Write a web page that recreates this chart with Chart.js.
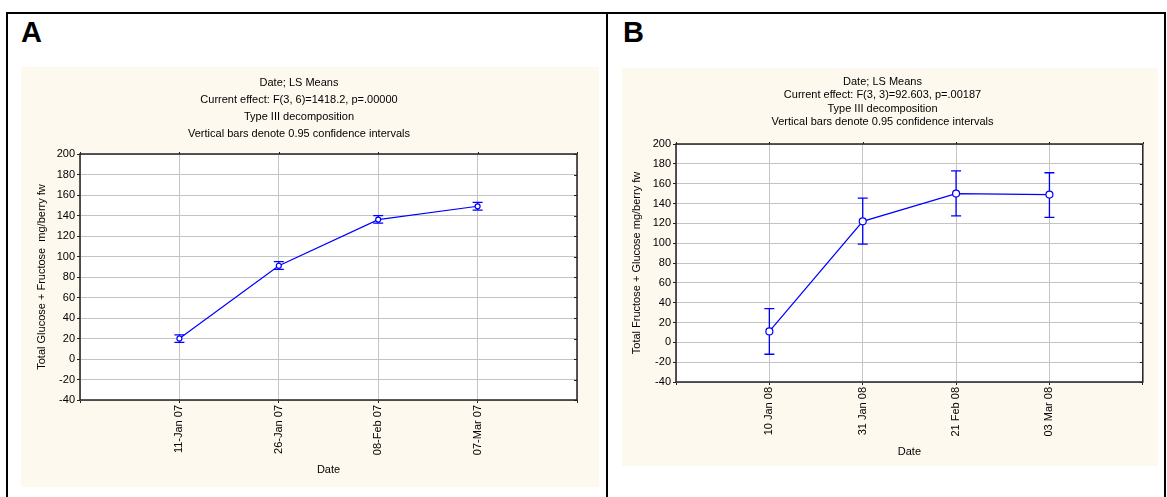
<!DOCTYPE html>
<html>
<head>
    <title>Date; LS Means</title>
    <script src="https://cdn.jsdelivr.net/npm/chart.js"></script>
    <style>
        body { margin: 0; background: #fff; font-family: 'Liberation Sans', Arial, sans-serif; }
        #frame { position: absolute; left: 6px; top: 12px; width: 1156px; height: 520px; border: 2px solid #000; border-bottom: none; }
        #divider { position: absolute; left: 606px; top: 12px; width: 2px; height: 520px; background: #000; }
        .tag { position: absolute; font-size: 29px; line-height: 29px; font-weight: bold; color: #000; }
        .panel { position: absolute; background: #fdf9ee; }
    </style>
</head>
<body>
    <div id="frame"></div>
    <div id="divider"></div>
    <div class="tag" style="left: 21px; top: 18px;">A</div>
    <div class="tag" style="left: 623px; top: 18px;">B</div>
    <div class="panel" style="left: 21px; top: 67px; width: 578px; height: 420px;"><canvas id="chartA"></canvas></div>
    <div class="panel" style="left: 622px; top: 68px; width: 536px; height: 398px;"><canvas id="chartB"></canvas></div>
    <script>
        // panel A (2007 season)
        const datesA = ['11-Jan 07', '26-Jan 07', '08-Feb 07', '07-Mar 07'];
        const meansA = [20, 91, 136, 149];
        const lowerA = [16.2, 87.5, 132.5, 145.2];
        const upperA = [23.6, 95, 139.8, 152.9];
        const titleA = ['Date; LS Means', 'Current effect: F(3, 6)=1418.2, p=.00000',
                        'Type III decomposition', 'Vertical bars denote 0.95 confidence intervals'];

        // panel B (2008 season)
        const datesB = ['10 Jan 08', '31 Jan 08', '21 Feb 08', '03 Mar 08'];
        const meansB = [11, 122, 150, 149];
        const lowerB = [-12, 99, 127.5, 126];
        const upperB = [34, 145.5, 173, 171];
        const titleB = ['Date; LS Means', 'Current effect: F(3, 3)=92.603, p=.00187',
                        'Type III decomposition', 'Vertical bars denote 0.95 confidence intervals'];

        const yMin = -40, yMax = 200, yStep = 20;
        const FONT = "'Liberation Sans', Arial, sans-serif";

        // white plot area, outer frame and small inner ticks like the original
        const framePlugin = {
            id: 'frame',
            beforeDraw(chart) {
                const { ctx, chartArea: a } = chart;
                ctx.save();
                ctx.fillStyle = '#fff';
                ctx.fillRect(a.left, a.top, a.right - a.left, a.bottom - a.top);
                ctx.restore();
            },
            afterDraw(chart) {
                const { ctx, chartArea: a, scales } = chart;
                ctx.save();
                ctx.strokeStyle = '#222';
                ctx.lineWidth = 1.5;
                ctx.strokeRect(a.left, a.top, a.right - a.left, a.bottom - a.top);
                ctx.lineWidth = 1;
                ctx.beginPath();
                scales.y.ticks.forEach(t => {
                    const py = Math.round(scales.y.getPixelForValue(t.value)) + 0.5;
                    ctx.moveTo(a.right, py);
                    ctx.lineTo(a.right - 3, py);
                });
                scales.x.ticks.forEach((t, i) => {
                    const px = Math.round(scales.x.getPixelForValue(i)) + 0.5;
                    ctx.moveTo(px, a.top);
                    ctx.lineTo(px, a.top - 2);
                });
                ctx.stroke();
                ctx.restore();
            }
        };

        // vertical confidence-interval bars
        const errorBarPlugin = {
            id: 'errorBars',
            beforeDatasetsDraw(chart, args, opts) {
                const { ctx, scales } = chart;
                const ds = chart.data.datasets[0];
                ctx.save();
                ctx.strokeStyle = '#0000ff';
                ctx.lineWidth = 1.3;
                ds.lower.forEach((lo, i) => {
                    if (lo == null) return;
                    const px = scales.x.getPixelForValue(i);
                    const y1 = scales.y.getPixelForValue(lo);
                    const y2 = scales.y.getPixelForValue(ds.upper[i]);
                    ctx.beginPath();
                    ctx.moveTo(px, y1); ctx.lineTo(px, y2);
                    ctx.moveTo(px - opts.cap, y1); ctx.lineTo(px + opts.cap, y1);
                    ctx.moveTo(px - opts.cap, y2); ctx.lineTo(px + opts.cap, y2);
                    ctx.stroke();
                });
                ctx.restore();
            }
        };

        function makeChart(id, dates, means, lower, upper, title, yTitle, geo) {
            const labels = ['', ...dates, ''];
            new Chart(document.getElementById(id), {
                type: 'line',
                data: {
                    labels: labels,
                    datasets: [{
                        data: [null, ...means, null],
                        lower: [null, ...lower, null],
                        upper: [null, ...upper, null],
                        borderColor: '#0000ff',
                        borderWidth: 1.2,
                        pointRadius: geo.radius,
                        pointBackgroundColor: '#fff',
                        pointBorderColor: '#0000ff',
                        pointBorderWidth: 1.2,
                        tension: 0
                    }]
                },
                options: {
                    responsive: true,
                    maintainAspectRatio: false,
                    animation: false,
                    events: [],
                    layout: { padding: { left: 0, right: geo.right, top: 0, bottom: 0 } },
                    plugins: {
                        legend: { display: false },
                        tooltip: { enabled: false },
                        title: {
                            display: true,
                            text: title,
                            color: '#000',
                            font: { family: FONT, size: 11, weight: 'normal', lineHeight: geo.titleLine },
                            padding: { top: geo.titleTop, bottom: geo.titleBottom }
                        },
                        errorBars: { cap: 5 }
                    },
                    scales: {
                        x: {
                            offset: false,
                            afterFit: s => { s.height = geo.xHeight; },
                            grid: { color: '#c4c4c4', tickColor: '#222', tickLength: 3, lineWidth: 1 },
                            border: { display: false },
                            ticks: {
                                autoSkip: false, minRotation: 90, maxRotation: 90, padding: 2,
                                color: '#000', font: { family: FONT, size: 11 }
                            },
                            title: {
                                display: true, text: 'Date', color: '#000',
                                font: { family: FONT, size: 11 },
                                padding: { top: 0, bottom: geo.xTitleBottom }
                            }
                        },
                        y: {
                            min: yMin,
                            max: yMax,
                            afterFit: s => { s.width = geo.yWidth; },
                            grid: { color: '#c4c4c4', tickColor: '#222', tickLength: 3, lineWidth: 1 },
                            border: { display: false },
                            ticks: {
                                stepSize: yStep, padding: 2,
                                color: '#000', font: { family: FONT, size: 11 }
                            },
                            title: {
                                display: true, text: yTitle, color: '#000',
                                font: { family: FONT, size: 11 },
                                padding: { top: geo.yTitleTop, bottom: 0 }
                            }
                        }
                    }
                },
                plugins: [framePlugin, errorBarPlugin]
            });
        }

        makeChart('chartA', datesA, meansA, lowerA, upperA, titleA,
            'Total Glucose + Fructose  mg/berry fw',
            { radius: 2.5, right: 22, titleLine: 17 / 11, titleTop: 7.5, titleBottom: 11.5,
              xHeight: 87, xTitleBottom: 10.4, yWidth: 59, yTitleTop: 14.4 });

        makeChart('chartB', datesB, meansB, lowerB, upperB, titleB,
            'Total Fructose + Glucose mg/berry fw',
            { radius: 3.5, right: 15, titleLine: 13.3 / 11, titleTop: 7.3, titleBottom: 15.5,
              xHeight: 84, xTitleBottom: 7.4, yWidth: 54, yTitleTop: 8.4 });
    </script>
</body>
</html>
